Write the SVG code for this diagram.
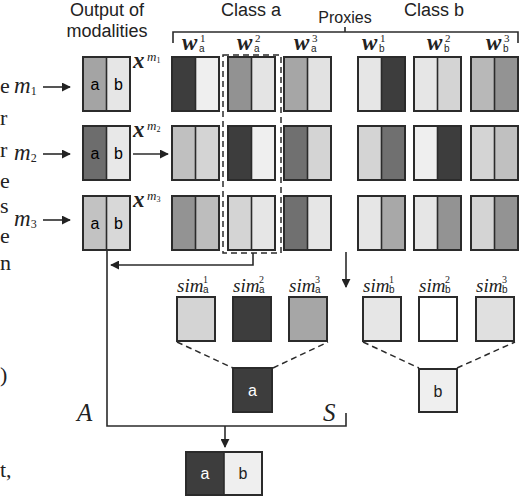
<svg xmlns="http://www.w3.org/2000/svg" width="524" height="500" viewBox="0 0 524 500">
<defs>
<marker id="ah" viewBox="0 0 10 10" refX="9" refY="5" markerWidth="9" markerHeight="9" markerUnits="userSpaceOnUse" orient="auto">
<path d="M0,0 L10,5 L0,10 z" fill="#222"/>
</marker>
<style>
.bx{stroke:#2b2b2b;stroke-width:2}
.dv{stroke:#2b2b2b;stroke-width:1.6}
.ln{stroke:#2b2b2b;stroke-width:1.6;fill:none}
.ds{stroke:#2b2b2b;stroke-width:1.5;fill:none;stroke-dasharray:6 4}
.sans{font-family:"Liberation Sans",Arial,sans-serif;fill:#222}
.ser{font-family:"Liberation Serif","Times New Roman",serif;fill:#222}
.it{font-style:italic}
.bi{font-style:italic;font-weight:bold}
.lt{font-family:"Liberation Sans",Arial,sans-serif;font-size:16px;text-anchor:middle}
</style>
</defs>
<rect width="524" height="500" fill="#fff"/>

<!-- stray page text at left edge -->
<g class="ser" font-size="22">
<text x="0" y="93">e</text>
<text x="0" y="125">r</text>
<text x="0" y="157">r</text>
<text x="0" y="188">e</text>
<text x="0" y="213">s</text>
<text x="0" y="243">e</text>
<text x="0" y="270">n</text>
<text x="0" y="382">)</text>
<text x="0" y="477">t,</text>
</g>

<!-- headers -->
<g id="headers">
<text class="sans" x="107" y="16" font-size="18" text-anchor="middle">Output of</text>
<text class="sans" x="107" y="37" font-size="18" text-anchor="middle">modalities</text>
<text class="sans" x="251" y="16" font-size="18" text-anchor="middle">Class a</text>
<text class="sans" x="434" y="16" font-size="18" text-anchor="middle">Class b</text>
<text class="sans" x="345" y="23" font-size="16" text-anchor="middle">Proxies</text>
</g>

<g id="connectors">
<path class="ln" d="M173 43 V32 H518 V43 M345 32 V27"/>
<line class="ln" x1="43" y1="87" x2="70" y2="87" marker-end="url(#ah)"/>
<line class="ln" x1="43" y1="154" x2="70" y2="154" marker-end="url(#ah)"/>
<line class="ln" x1="43" y1="220" x2="70" y2="220" marker-end="url(#ah)"/>
<line class="ln" x1="133" y1="154" x2="168" y2="154" marker-end="url(#ah)"/>
<path class="ln" d="M253 253 V265 H111" marker-end="url(#ah)"/>
<path class="ln" d="M107 250 V426 H346 V413"/>
<line class="ln" x1="225" y1="426" x2="225" y2="447" marker-end="url(#ah)"/>
<line class="ln" x1="346" y1="252" x2="346" y2="287" marker-end="url(#ah)"/>
<path class="ds" d="M177 342 L233 368 M273 368 L328 342 M363 342 L419 368 M457 368 L515 342"/>
<rect class="ds" x="223" y="55" width="58" height="198"/>
</g>

<!-- input labels -->
<g id="inputs" class="ser it">
<text x="14" y="93" font-size="23">m<tspan font-size="12" font-style="normal" dy="2">1</tspan></text>
<text x="14" y="160" font-size="23">m<tspan font-size="12" font-style="normal" dy="2">2</tspan></text>
<text x="14" y="226" font-size="23">m<tspan font-size="12" font-style="normal" dy="2">3</tspan></text>
</g>

<!-- output of modalities -->
<g id="out1">
<rect class="bx" x="83" y="57" width="47" height="54" fill="#a4a4a4"/>
<rect x="107" y="58" width="22" height="52" fill="#e6e6e6"/>
<line class="dv" x1="106.5" y1="57" x2="106.5" y2="111"/>
<rect x="83" y="57" width="47" height="54" fill="none" class="bx"/>
<text class="lt" x="95" y="90">a</text><text class="lt" x="118.5" y="90">b</text>
<text class="ser bi" x="133" y="68" font-size="23">x</text>
<text class="ser it" x="147" y="61" font-size="13">m<tspan font-size="8" font-style="normal" dy="2">1</tspan></text>
</g>
<g id="out2">
<rect class="bx" x="83" y="126" width="47" height="54" fill="#6d6d6d"/>
<rect x="107" y="127" width="22" height="52" fill="#e8e8e8"/>
<line class="dv" x1="106.5" y1="126" x2="106.5" y2="180"/>
<rect x="83" y="126" width="47" height="54" fill="none" class="bx"/>
<text class="lt" x="95" y="159">a</text><text class="lt" x="118.5" y="159">b</text>
<text class="ser bi" x="133" y="137" font-size="23">x</text>
<text class="ser it" x="147" y="130" font-size="13">m<tspan font-size="8" font-style="normal" dy="2">2</tspan></text>
</g>
<g id="out3">
<rect class="bx" x="83" y="196" width="47" height="54" fill="#c2c2c2"/>
<rect x="107" y="197" width="22" height="52" fill="#d8d8d8"/>
<line class="dv" x1="106.5" y1="196" x2="106.5" y2="250"/>
<rect x="83" y="196" width="47" height="54" fill="none" class="bx"/>
<text class="lt" x="95" y="229">a</text><text class="lt" x="118.5" y="229">b</text>
<text class="ser bi" x="133" y="207" font-size="23">x</text>
<text class="ser it" x="147" y="200" font-size="13">m<tspan font-size="8" font-style="normal" dy="2">3</tspan></text>
</g>

<!-- proxy labels -->
<g id="proxy-labels">
<g><text class="ser bi" x="182" y="50" font-size="23">w</text><text class="ser" x="200" y="42" font-size="11">1</text><text class="sans" x="199" y="52" font-size="10">a</text></g>
<g><text class="ser bi" x="237" y="50" font-size="23">w</text><text class="ser" x="255" y="42" font-size="11">2</text><text class="sans" x="254" y="52" font-size="10">a</text></g>
<g><text class="ser bi" x="294" y="50" font-size="23">w</text><text class="ser" x="312" y="42" font-size="11">3</text><text class="sans" x="311" y="52" font-size="10">a</text></g>
<g><text class="ser bi" x="362" y="50" font-size="23">w</text><text class="ser" x="380" y="42" font-size="11">1</text><text class="sans" x="379" y="52" font-size="10">b</text></g>
<g><text class="ser bi" x="427" y="50" font-size="23">w</text><text class="ser" x="445" y="42" font-size="11">2</text><text class="sans" x="444" y="52" font-size="10">b</text></g>
<g><text class="ser bi" x="486" y="50" font-size="23">w</text><text class="ser" x="504" y="42" font-size="11">3</text><text class="sans" x="503" y="52" font-size="10">b</text></g>
</g>

<!-- proxies: row 1 -->
<g id="p-r1">
<rect x="172" y="57" width="23.5" height="54" fill="#3d3d3d"/><rect x="195.5" y="57" width="23.5" height="54" fill="#efefef"/>
<rect x="228" y="57" width="23.5" height="54" fill="#929292"/><rect x="251.5" y="57" width="23.5" height="54" fill="#e4e4e4"/>
<rect x="284" y="57" width="23.5" height="54" fill="#a6a6a6"/><rect x="307.5" y="57" width="23.5" height="54" fill="#e2e2e2"/>
<rect x="358" y="57" width="23.5" height="54" fill="#e6e6e6"/><rect x="381.5" y="57" width="23.5" height="54" fill="#3d3d3d"/>
<rect x="414" y="57" width="23.5" height="54" fill="#e6e6e6"/><rect x="437.5" y="57" width="23.5" height="54" fill="#d4d4d4"/>
<rect x="471" y="57" width="23.5" height="54" fill="#b8b8b8"/><rect x="494.5" y="57" width="23.5" height="54" fill="#939393"/>
</g>
<g id="p-r2">
<rect x="172" y="126" width="23.5" height="54" fill="#c0c0c0"/><rect x="195.5" y="126" width="23.5" height="54" fill="#d4d4d4"/>
<rect x="228" y="126" width="23.5" height="54" fill="#3d3d3d"/><rect x="251.5" y="126" width="23.5" height="54" fill="#efefef"/>
<rect x="284" y="126" width="23.5" height="54" fill="#707070"/><rect x="307.5" y="126" width="23.5" height="54" fill="#d4d4d4"/>
<rect x="358" y="126" width="23.5" height="54" fill="#d4d4d4"/><rect x="381.5" y="126" width="23.5" height="54" fill="#707070"/>
<rect x="414" y="126" width="23.5" height="54" fill="#efefef"/><rect x="437.5" y="126" width="23.5" height="54" fill="#3d3d3d"/>
<rect x="471" y="126" width="23.5" height="54" fill="#d4d4d4"/><rect x="494.5" y="126" width="23.5" height="54" fill="#c0c0c0"/>
</g>
<g id="p-r3">
<rect x="172" y="196" width="23.5" height="54" fill="#939393"/><rect x="195.5" y="196" width="23.5" height="54" fill="#bdbdbd"/>
<rect x="228" y="196" width="23.5" height="54" fill="#d4d4d4"/><rect x="251.5" y="196" width="23.5" height="54" fill="#e6e6e6"/>
<rect x="284" y="196" width="23.5" height="54" fill="#707070"/><rect x="307.5" y="196" width="23.5" height="54" fill="#e6e6e6"/>
<rect x="358" y="196" width="23.5" height="54" fill="#e6e6e6"/><rect x="381.5" y="196" width="23.5" height="54" fill="#a8a8a8"/>
<rect x="414" y="196" width="23.5" height="54" fill="#e6e6e6"/><rect x="437.5" y="196" width="23.5" height="54" fill="#939393"/>
<rect x="471" y="196" width="23.5" height="54" fill="#d4d4d4"/><rect x="494.5" y="196" width="23.5" height="54" fill="#939393"/>
</g>
<g id="proxy-outlines" fill="none">
<path class="dv" d="M195.5 57V111M251.5 57V111M307.5 57V111M381.5 57V111M437.5 57V111M494.5 57V111M195.5 126V180M251.5 126V180M307.5 126V180M381.5 126V180M437.5 126V180M494.5 126V180M195.5 196V250M251.5 196V250M307.5 196V250M381.5 196V250M437.5 196V250M494.5 196V250"/>
<rect class="bx" x="172" y="57" width="47" height="54"/><rect class="bx" x="228" y="57" width="47" height="54"/><rect class="bx" x="284" y="57" width="47" height="54"/>
<rect class="bx" x="358" y="57" width="47" height="54"/><rect class="bx" x="414" y="57" width="47" height="54"/><rect class="bx" x="471" y="57" width="47" height="54"/>
<rect class="bx" x="172" y="126" width="47" height="54"/><rect class="bx" x="228" y="126" width="47" height="54"/><rect class="bx" x="284" y="126" width="47" height="54"/>
<rect class="bx" x="358" y="126" width="47" height="54"/><rect class="bx" x="414" y="126" width="47" height="54"/><rect class="bx" x="471" y="126" width="47" height="54"/>
<rect class="bx" x="172" y="196" width="47" height="54"/><rect class="bx" x="228" y="196" width="47" height="54"/><rect class="bx" x="284" y="196" width="47" height="54"/>
<rect class="bx" x="358" y="196" width="47" height="54"/><rect class="bx" x="414" y="196" width="47" height="54"/><rect class="bx" x="471" y="196" width="47" height="54"/>
</g>

<!-- similarities -->
<g id="sim-a1"><text class="ser it" x="177" y="292" font-size="19">sim</text><text class="ser" x="203" y="283" font-size="10">1</text><text class="sans" x="203" y="293" font-size="10">a</text><rect class="bx" x="177" y="297" width="38" height="44" fill="#d4d4d4"/></g>
<g id="sim-a2"><text class="ser it" x="233" y="292" font-size="19">sim</text><text class="ser" x="259" y="283" font-size="10">2</text><text class="sans" x="259" y="293" font-size="10">a</text><rect class="bx" x="233" y="297" width="38" height="44" fill="#3d3d3d"/></g>
<g id="sim-a3"><text class="ser it" x="289" y="292" font-size="19">sim</text><text class="ser" x="315" y="283" font-size="10">3</text><text class="sans" x="315" y="293" font-size="10">a</text><rect class="bx" x="289" y="297" width="38" height="44" fill="#a6a6a6"/></g>
<g id="sim-b1"><text class="ser it" x="363" y="292" font-size="19">sim</text><text class="ser" x="389" y="283" font-size="10">1</text><text class="sans" x="389" y="293" font-size="10">b</text><rect class="bx" x="363" y="297" width="38" height="44" fill="#e6e6e6"/></g>
<g id="sim-b2"><text class="ser it" x="419" y="292" font-size="19">sim</text><text class="ser" x="445" y="283" font-size="10">2</text><text class="sans" x="445" y="293" font-size="10">b</text><rect class="bx" x="419" y="297" width="38" height="44" fill="#ffffff"/></g>
<g id="sim-b3"><text class="ser it" x="476" y="292" font-size="19">sim</text><text class="ser" x="502" y="283" font-size="10">3</text><text class="sans" x="502" y="293" font-size="10">b</text><rect class="bx" x="476" y="297" width="38" height="44" fill="#e0e0e0"/></g>

<!-- aggregated -->
<g id="agg-a"><rect class="bx" x="233" y="368" width="39" height="44" fill="#3d3d3d"/><text class="lt" x="252.5" y="396" fill="#fff">a</text></g>
<g id="agg-b"><rect class="bx" x="419" y="369" width="38" height="43" fill="#efefef"/><text class="lt" x="438" y="397" fill="#222">b</text></g>

<text id="lblA" class="ser it" x="77" y="421" font-size="25">A</text>
<text id="lblS" class="ser it" x="323" y="421" font-size="25">S</text>

<g id="final">
<rect x="186" y="452" width="38" height="43" fill="#3d3d3d"/>
<rect x="224" y="452" width="38" height="43" fill="#efefef"/>
<line class="dv" x1="224" y1="452" x2="224" y2="495"/>
<rect class="bx" x="186" y="452" width="76" height="43" fill="none"/>
<text class="lt" x="205" y="479" fill="#fff">a</text>
<text class="lt" x="243" y="479" fill="#222">b</text>
</g>
</svg>
